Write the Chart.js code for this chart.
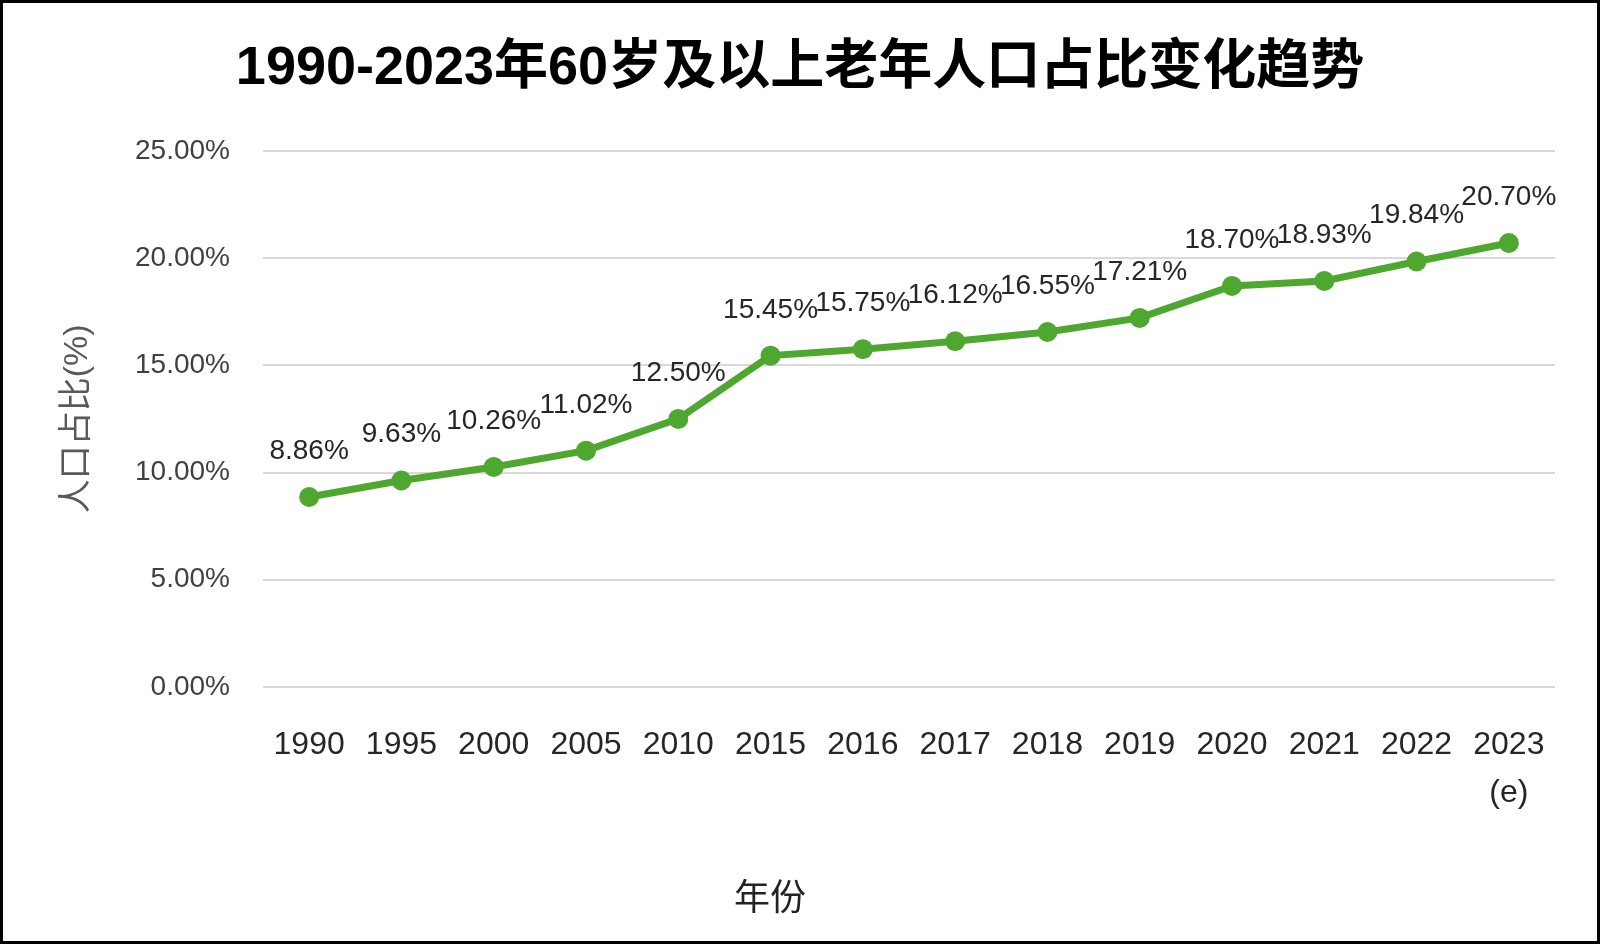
<!DOCTYPE html>
<html>
<head>
<meta charset="utf-8">
<script src="https://cdn.jsdelivr.net/npm/chart.js@4/dist/chart.umd.min.js"></script>
<style>
  html, body { margin: 0; padding: 0; background: #fff; }
  #wrap { width: 1600px; height: 944px; }
</style>
</head>
<body>
<div id="wrap"><canvas id="myLineChart" width="1600" height="944"></canvas></div>
<script>
// data
var years = ['1990', '1995', '2000', '2005', '2010', '2015', '2016', '2017', '2018', '2019', '2020', '2021', '2022', ['2023', '(e)']];
var shares = [8.86, 9.63, 10.26, 11.02, 12.50, 15.45, 15.75, 16.12, 16.55, 17.21, 18.70, 18.93, 19.84, 20.70];
var yTicks = [0, 5, 10, 15, 20, 25];

var chartTitle = '1990-2023年60岁及以上老年人口占比变化趋势';
var yTitle = '人口占比(%)';
var xTitle = '年份';

var green = '#4EA72E';
var baseFont = "'Liberation Sans', 'Noto Sans CJK SC', sans-serif";

// white background + outer black frame
var framePlugin = {
    id: 'frame',
    beforeDraw: function (chart) {
        var ctx = chart.ctx;
        ctx.save();
        ctx.fillStyle = '#fff';
        ctx.fillRect(0, 0, chart.width, chart.height);
        ctx.strokeStyle = '#000';
        ctx.lineWidth = 3;
        ctx.strokeRect(1.5, 1.5, chart.width - 3, chart.height - 3);
        ctx.restore();
    }
};

// value labels above each point, and the x axis title
var labelPlugin = {
    id: 'valueLabels',
    afterDatasetsDraw: function (chart) {
        var ctx = chart.ctx;
        var meta = chart.getDatasetMeta(0);
        ctx.save();
        ctx.font = '28px ' + baseFont;
        ctx.fillStyle = '#262626';
        ctx.textAlign = 'center';
        ctx.textBaseline = 'alphabetic';
        meta.data.forEach(function (pt, i) {
            ctx.fillText(shares[i].toFixed(2) + '%', pt.x, pt.y - 38);
        });
        ctx.font = '36px ' + baseFont;
        ctx.fillStyle = '#222';
        ctx.textBaseline = 'middle';
        ctx.fillText(xTitle, 770, 900);
        ctx.restore();
    }
};

var lnChart = document.getElementById('myLineChart').getContext('2d');
var LINEchart = new Chart(lnChart, {
    type: 'line',
    data: {
        labels: years,
        datasets: [{
            data: shares,
            borderColor: green,
            backgroundColor: green,
            borderWidth: 7,
            pointRadius: 10,
            pointHoverRadius: 10,
            pointBorderWidth: 0,
            tension: 0
        }]
    },
    options: {
        responsive: false,
        animation: false,
        layout: { padding: { left: 45, right: 45, top: 0, bottom: 0 } },
        plugins: {
            legend: { display: false },
            tooltip: { enabled: false },
            title: {
                display: true,
                text: chartTitle,
                color: '#000',
                font: { family: baseFont, size: 54, weight: 'bold' },
                padding: { top: 37, bottom: 49 }
            }
        },
        scales: {
            x: {
                offset: true,
                grid: { display: false },
                border: { display: false },
                ticks: {
                    color: '#262626',
                    padding: 26,
                    maxRotation: 0,
                    autoSkip: false,
                    font: { family: baseFont, size: 32, lineHeight: 1.5 }
                },
                afterFit: function (scale) { scale.height = 257; }
            },
            y: {
                min: 0,
                max: 25,
                afterBuildTicks: function (scale) {
                    scale.ticks = yTicks.map(function (v) { return { value: v }; });
                },
                grid: { color: '#d9d9d9', lineWidth: 2, drawTicks: false },
                border: { display: false },
                ticks: {
                    color: '#404040',
                    padding: 33,
                    font: { family: baseFont, size: 28 },
                    callback: function (v) { return v.toFixed(2) + '%'; }
                },
                title: {
                    display: true,
                    text: yTitle,
                    color: '#595959',
                    font: { family: baseFont, size: 34 },
                    padding: { top: 12, bottom: 0 }
                },
                afterFit: function (scale) { scale.width = 218; }
            }
        }
    },
    plugins: [framePlugin, labelPlugin]
});
</script>
</body>
</html>
